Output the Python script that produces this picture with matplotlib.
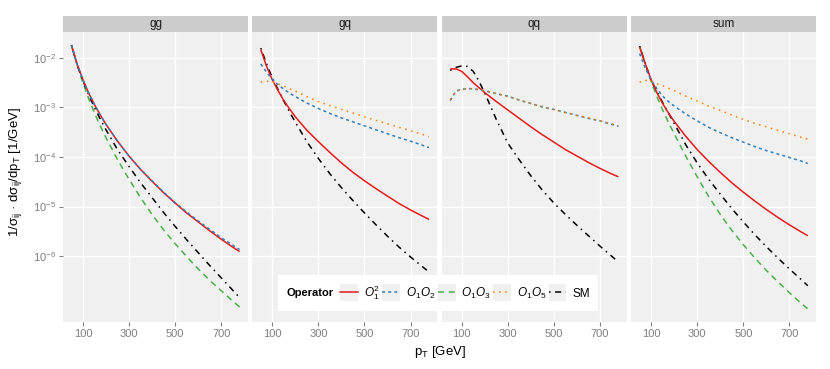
import numpy as np
import matplotlib
matplotlib.use("Agg")
import matplotlib.pyplot as plt
from matplotlib.lines import Line2D
from matplotlib.patches import Rectangle
from matplotlib.legend_handler import HandlerLine2D
from matplotlib.offsetbox import HPacker
from matplotlib.ticker import NullLocator, FixedLocator

plt.rcParams['font.family'] = ['Liberation Sans', 'DejaVu Sans']
plt.rcParams['mathtext.fontset'] = 'custom'
plt.rcParams['mathtext.rm'] = 'Liberation Sans'
plt.rcParams['mathtext.it'] = 'Liberation Sans:italic'
plt.rcParams['mathtext.bf'] = 'Liberation Sans:bold'

# ---------------- data: log10(1/sigma dsigma/dpT) ----
pT = [50, 75, 100, 125, 150, 175, 200, 250, 300, 350, 400, 450, 500, 550, 600, 650, 700, 750, 780]

panels = ["gg", "gq", "qq", "sum"]
operators = ["O1sq", "O1O2", "O1O3", "O1O5", "SM"]
op_labels = [r"$O_1^2$", r"$O_1O_2$", r"$O_1O_3$", r"$O_1O_5$", "SM"]

gg_O1sq = [-1.74, -2.13, -2.44, -2.71, -2.94, -3.15, -3.34, -3.68, -3.98, -4.25, -4.49, -4.72, -4.93, -5.13, -5.31, -5.49, -5.66, -5.82, -5.91]
gg_O1O2 = [-1.74, -2.13, -2.44, -2.71, -2.94, -3.15, -3.34, -3.68, -3.98, -4.25, -4.48, -4.71, -4.92, -5.11, -5.29, -5.46, -5.63, -5.78, -5.87]
gg_O1O3 = [-1.74, -2.14, -2.50, -2.82, -3.11, -3.37, -3.61, -4.05, -4.45, -4.82, -5.16, -5.47, -5.75, -6.01, -6.26, -6.49, -6.70, -6.91, -7.03]
gg_SM   = [-1.74, -2.14, -2.46, -2.74, -3.00, -3.23, -3.45, -3.85, -4.19, -4.52, -4.82, -5.12, -5.40, -5.67, -5.93, -6.19, -6.44, -6.69, -6.84]

gq_O1sq = [-1.83, -2.17, -2.44, -2.66, -2.86, -3.03, -3.19, -3.46, -3.69, -3.91, -4.12, -4.31, -4.48, -4.64, -4.79, -4.94, -5.07, -5.19, -5.26]
gq_O1O2 = [-2.12, -2.29, -2.43, -2.54, -2.63, -2.71, -2.78, -2.91, -3.02, -3.12, -3.21, -3.29, -3.37, -3.45, -3.53, -3.61, -3.68, -3.76, -3.81]
gq_O1O5 = [-2.49, -2.47, -2.48, -2.52, -2.57, -2.62, -2.67, -2.78, -2.88, -2.96, -3.04, -3.11, -3.19, -3.26, -3.33, -3.40, -3.47, -3.54, -3.59]
gq_SM   = [-1.80, -2.12, -2.40, -2.64, -2.87, -3.09, -3.30, -3.69, -4.03, -4.34, -4.62, -4.88, -5.13, -5.37, -5.60, -5.82, -6.02, -6.21, -6.32]

qq_O1sq = [-2.22, -2.22, -2.27, -2.38, -2.50, -2.60, -2.70, -2.88, -3.05, -3.22, -3.39, -3.55, -3.70, -3.85, -3.98, -4.11, -4.23, -4.34, -4.40]
qq_O1O2 = [-2.86, -2.67, -2.63, -2.62, -2.62, -2.64, -2.66, -2.72, -2.77, -2.85, -2.92, -2.99, -3.04, -3.10, -3.16, -3.22, -3.27, -3.34, -3.38]
qq_O1O5 = [-2.84, -2.67, -2.63, -2.62, -2.62, -2.64, -2.66, -2.72, -2.78, -2.85, -2.92, -2.98, -3.04, -3.10, -3.16, -3.21, -3.27, -3.33, -3.37]
qq_SM   = [-2.25, -2.19, -2.16, -2.17, -2.27, -2.47, -2.71, -3.24, -3.72, -4.06, -4.38, -4.67, -4.93, -5.16, -5.38, -5.59, -5.80, -6.00, -6.12]

sum_O1sq = [-1.78, -2.12, -2.44, -2.70, -2.92, -3.11, -3.28, -3.58, -3.85, -4.09, -4.31, -4.52, -4.71, -4.89, -5.06, -5.22, -5.37, -5.51, -5.59]
sum_O1O2 = [-1.91, -2.21, -2.44, -2.62, -2.77, -2.88, -2.97, -3.13, -3.27, -3.40, -3.51, -3.61, -3.70, -3.79, -3.87, -3.94, -4.01, -4.08, -4.13]
sum_O1O3 = [-1.76, -2.13, -2.47, -2.78, -3.05, -3.30, -3.53, -3.98, -4.40, -4.80, -5.16, -5.48, -5.77, -6.04, -6.29, -6.52, -6.74, -6.95, -7.07]
sum_O1O5 = [-2.49, -2.45, -2.47, -2.52, -2.56, -2.61, -2.66, -2.77, -2.87, -2.97, -3.06, -3.15, -3.24, -3.32, -3.39, -3.46, -3.53, -3.60, -3.64]
sum_SM   = [-1.76, -2.12, -2.45, -2.68, -2.90, -3.11, -3.32, -3.75, -4.12, -4.45, -4.75, -5.04, -5.31, -5.57, -5.81, -6.04, -6.26, -6.47, -6.60]

series = {
    "gg": {"O1sq": gg_O1sq, "O1O2": gg_O1O2, "O1O3": gg_O1O3, "SM": gg_SM},
    "gq": {"O1sq": gq_O1sq, "O1O2": gq_O1O2, "O1O5": gq_O1O5, "SM": gq_SM},
    "qq": {"O1sq": qq_O1sq, "O1O2": qq_O1O2, "O1O5": qq_O1O5, "SM": qq_SM},
    "sum": {"O1sq": sum_O1sq, "O1O2": sum_O1O2, "O1O3": sum_O1O3, "O1O5": sum_O1O5, "SM": sum_SM},
}

x_ticks = [100, 300, 500, 700]
y_ticks = [1e-2, 1e-3, 1e-4, 1e-5, 1e-6]
y_ticklabels = [r"$10^{-2}$", r"$10^{-3}$", r"$10^{-4}$", r"$10^{-5}$", r"$10^{-6}$"]

# ---------------- styles ----------------
colors = {"O1sq": "#E41A1C", "O1O2": "#377EB8", "O1O3": "#4DAF4A", "O1O5": "#FF7F00", "SM": "#000000"}
dashes = {"O1sq": "-", "O1O2": (0, (2, 2)), "O1O3": (0, (4, 3)), "O1O5": (0, (1, 3)), "SM": (0, (1, 3, 4, 3))}
draw_order = ["O1O3", "SM", "O1sq", "O1O2", "O1O5"]

W, H = 830, 369
fig = plt.figure(figsize=(W / 100, H / 100), dpi=100)

panel_left = 63
panel_w = 185
panel_gap = 4.4
panel_top = 32
panel_bot = 322
strip_top = 16
grey_txt = "#7F7F7F"

for i, name in enumerate(panels):
    x0 = panel_left + i * (panel_w + panel_gap)
    ax = fig.add_axes([x0 / W, 1 - panel_bot / H, panel_w / W, (panel_bot - panel_top) / H])
    ax.set_facecolor("#F0F0F0")
    for s in ax.spines.values():
        s.set_visible(False)
    ax.set_yscale("log")
    ax.set_xlim(13.5, 816.5)
    ax.set_ylim(10 ** -7.333, 10 ** -1.475)
    ax.xaxis.set_major_locator(FixedLocator(x_ticks))
    ax.yaxis.set_major_locator(FixedLocator(y_ticks))
    ax.yaxis.set_minor_locator(NullLocator())
    ax.xaxis.set_minor_locator(NullLocator())
    ax.set_xticklabels([str(t) for t in x_ticks])
    ax.grid(True, color="white", linewidth=1.0)
    ax.set_axisbelow(True)
    ax.tick_params(axis="both", colors=grey_txt, labelcolor=grey_txt, labelsize=8, length=3, width=0.8, pad=2)
    if i == 0:
        ax.set_yticklabels(y_ticklabels)
    else:
        ax.tick_params(axis="y", left=False, labelleft=False)
    for op in draw_order:
        if op in series[name]:
            vals = 10.0 ** np.array(series[name][op])
            ax.plot(pT, vals, color=colors[op], linestyle=dashes[op], linewidth=1.1,
                    solid_capstyle="butt", dash_capstyle="butt", solid_joinstyle="round")
    # facet strip
    fig.patches.append(Rectangle((x0 / W, 1 - panel_top / H), panel_w / W, (panel_top - strip_top) / H,
                                 transform=fig.transFigure, facecolor="#CCCCCC", edgecolor="none"))
    fig.text((x0 + panel_w / 2) / W, 1 - (strip_top + panel_top) / 2 / H, name, ha="center", va="center",
             fontsize=8.5, color="#1A1A1A")

# axis titles
fig.text(15 / W, 1 - 172 / H, r"1/σ$_{\mathrm{ij}}$ · dσ$_{\mathrm{ij}}$/dp$_{\mathrm{T}}$ [1/GeV]",
         rotation=90, ha="center", va="center", fontsize=9.5)
fig.text(440 / W, 1 - 352 / H, r"p$_{\mathrm{T}}$ [GeV]", ha="center", va="center", fontsize=9.5)


# legend with grey key backgrounds and title on the left
class KeyHandler(HandlerLine2D):
    def create_artists(self, legend, orig_handle, xdescent, ydescent, width, height, fontsize, trans):
        arts = super().create_artists(legend, orig_handle, xdescent, ydescent, width, height, fontsize, trans)
        rect = Rectangle((-xdescent, -ydescent - 0.3 * height), width, height * 1.6,
                         facecolor="#F0F0F0", edgecolor="none", transform=trans)
        return [rect] + list(arts)


handles = [Line2D([], [], color=colors[op], linestyle=dashes[op], linewidth=1.1) for op in operators]
leg = fig.legend(handles, op_labels, loc="center", bbox_to_anchor=(438 / W, 1 - 293 / H), ncol=5,
                 frameon=True, fancybox=False, framealpha=1, facecolor="white", edgecolor="none",
                 fontsize=8.5, title="Operator", title_fontproperties={"weight": "bold", "size": 8},
                 handlelength=1.5, handleheight=1.0, handletextpad=0.5, columnspacing=0.2,
                 borderpad=0.7, handler_map={Line2D: KeyHandler()})
fs = leg._fontsize
leg._legend_box = HPacker(pad=leg.borderpad * fs, sep=0.6 * fs, align="center",
                          children=[leg._legend_title_box, leg._legend_handle_box])
leg._legend_box.set_figure(fig)
leg._legend_box.axes = leg.axes
leg._legend_box.set_offset(leg._findoffset)

fig.savefig("out.png", dpi=100)
